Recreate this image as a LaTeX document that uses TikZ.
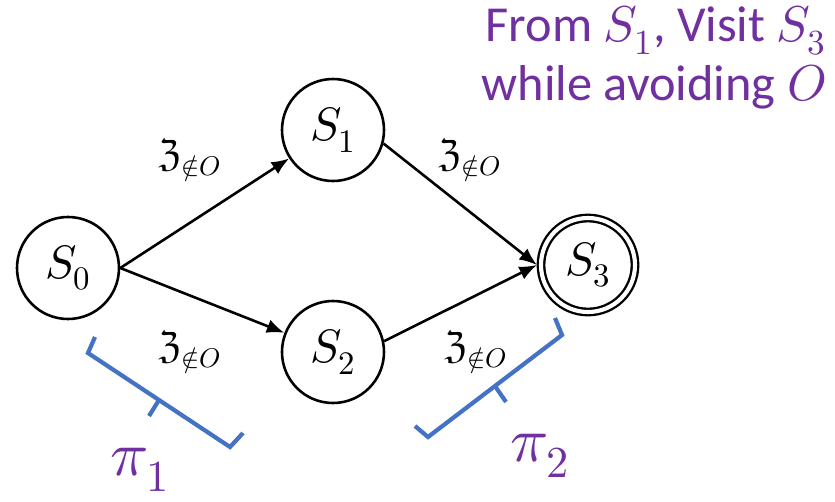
\documentclass[tikz,border=0pt]{standalone}
\usepackage{amsmath}
\usepackage{fontspec}
\usepackage{unicode-math}
\setmainfont{Carlito}
\setmathfont{Latin Modern Math}
\usetikzlibrary{arrows.meta}
\definecolor{goalpurple}{RGB}{112,48,160}
\definecolor{braceblue}{RGB}{68,114,196}

\begin{document}
\begin{tikzpicture}[x=0.03cm,y=-0.03cm,
  state/.style={circle,draw,line width=2.2pt,minimum size=3.06cm,inner sep=0pt,font=\fontsize{40}{44}\selectfont},
  accept/.style={state,double,line width=2pt,double distance=3.5pt,minimum size=2.82cm,outer sep=3.5pt},
  trans/.style={-{Latex[length=15pt,width=12pt]},line width=2.2pt},
  lbl/.style={font=\fontsize{33}{36}\selectfont},
  brace/.style={braceblue,line width=3.6pt,line join=miter},
  pilbl/.style={goalpurple,font=\fontsize{54}{60}\selectfont}]
\useasboundingbox (0,0) rectangle (835,502);

% states
\node[state] (s0) at (68,268) {$S_0$};
\node[state] (s1) at (333,130) {$S_1$};
\node[state] (s2) at (333,352) {$S_2$};
\node[accept] (s3) at (588,265) {$S_3$};

% transitions
\draw[trans] (s0.east) -- (s1);
\draw[trans] (s0.east) -- (s2);
\draw[trans] (s1.-15) -- (s3.west);
\draw[trans] (s2.12) -- (s3.west);
\node[lbl] (z01) at (190,160) {$\mathfrak{Z}_{\notin O}$};
\node[lbl] (z13) at (470,160) {$\mathfrak{Z}_{\notin O}$};
\node[lbl] (z02) at (190,352) {$\mathfrak{Z}_{\notin O}$};
\node[lbl] (z23) at (476,352) {$\mathfrak{Z}_{\notin O}$};

% segments of the path
\draw[brace] (95,337) -- (88,353) -- (230,447) -- (243,433);
\draw[brace] (159,400) -- (149,416);
\draw[brace] (555,318) -- (562,335) -- (428,437) -- (415,426);
\draw[brace] (495,386) -- (506,402);
\node[pilbl] (pi1) at (140,470) {$\pi_1$};
\node[pilbl] (pi2) at (540,456) {$\pi_2$};

% task
\node[goalpurple,anchor=north east,align=right,inner sep=0pt,font=\fontsize{43}{50}\selectfont] (task) at (826,6)
  {From $S_1$, Visit $S_3$\\ while avoiding $O$};

\end{tikzpicture}
\end{document}
